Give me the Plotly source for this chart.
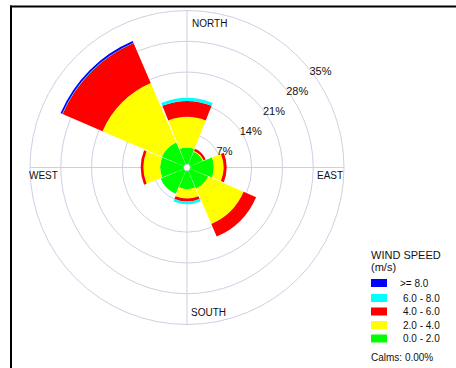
import plotly.graph_objects as go

W, H = 456, 368

# Wind directions (degrees, clockwise from north)
directions = ["N", "NE", "E", "SE", "S", "SW", "W", "NW"]
dir_angles = [0, 45, 90, 135, 180, 225, 270, 315]

# Frequency (%) of each wind speed class per direction
freq_0_2 = [3.8, 3.2, 5.4, 4.5, 4.2, 5.8, 5.4, 5.5]
freq_2_4 = [7.0, 0.2, 2.2, 8.8, 2.1, 0.0, 3.8, 14.7]
freq_4_6 = [3.6, 0.5, 0.7, 3.1, 0.7, 0.0, 0.6, 9.9]
freq_6_8 = [0.7, 0.0, 0.0, 0.0, 0.6, 0.0, 0.0, 0.1]
freq_8_up = [0.0, 0.0, 0.0, 0.0, 0.0, 0.0, 0.0, 0.4]

speed_labels = ["0.0 - 2.0", "2.0 - 4.0", "4.0 - 6.0", "6.0 - 8.0", ">= 8.0"]
speed_colors = ["#00FF00", "#FFFF00", "#FF0000", "#00FFFF", "#0000FF"]
speed_series = [freq_0_2, freq_2_4, freq_4_6, freq_6_8, freq_8_up]

ring_vals = [7, 14, 21, 28, 35]
ring_text = ["7%", "14%", "21%", "28%", "35%"]
calms_pct = 0.00

GRID = "#cfcfe3"
FONT = "Liberation Sans, Arial, sans-serif"


def px(x):
    return x / W


def py(y):
    return 1 - y / H


fig = go.Figure()
for label, color, values in zip(speed_labels, speed_colors, speed_series):
    fig.add_trace(go.Barpolar(
        r=values,
        theta=dir_angles,
        width=[43.5] * len(dir_angles),
        name=label,
        marker=dict(color=color, line=dict(width=0)),
        showlegend=False,
        hoverinfo="skip",
    ))

# polar area centred near (187, 167) px with radius ~157 px
cx, cy, R = 187, 167.5, 157
fig.update_layout(
    width=W, height=H,
    margin=dict(l=0, r=0, t=0, b=0),
    paper_bgcolor="white",
    plot_bgcolor="white",
    font=dict(family=FONT, size=11, color="#111111"),
    polar=dict(
        domain=dict(x=[px(cx - R), px(cx + R)], y=[py(cy + R), py(cy - R)]),
        bgcolor="white",
        barmode="stack",
        hole=0.02,
        radialaxis=dict(
            range=[0, 35],
            tickvals=ring_vals,
            ticktext=ring_text,
            angle=41,
            tickangle=41,
            side="clockwise",
            showline=False,
            ticks="",
            gridcolor=GRID,
            gridwidth=1,
            tickfont=dict(size=11, color="#111111", family=FONT),
        ),
        angularaxis=dict(
            rotation=90,
            direction="clockwise",
            tickvals=[0, 90, 180, 270],
            showticklabels=False,
            ticks="",
            gridcolor=GRID,
            gridwidth=1,
            showline=True,
            linecolor=GRID,
            linewidth=1,
        ),
    ),
)

# compass labels
compass = [
    ("NORTH", 190, 24, "left"),
    ("SOUTH", 189, 312, "left"),
    ("WEST", 27, 175, "left"),
    ("EAST", 345, 175, "right"),
]
annotations = []
for text, x, y, anchor in compass:
    annotations.append(dict(
        text=text, x=px(x), y=py(y), xref="paper", yref="paper",
        xanchor=anchor, yanchor="middle", showarrow=False,
        font=dict(size=10, color="#111111", family=FONT),
    ))

# legend block
annotations.append(dict(
    text="WIND SPEED", x=px(369), y=py(255), xref="paper", yref="paper",
    xanchor="left", yanchor="middle", showarrow=False,
    font=dict(size=11, color="#111111", family=FONT),
))
annotations.append(dict(
    text="(m/s)", x=px(369), y=py(267), xref="paper", yref="paper",
    xanchor="left", yanchor="middle", showarrow=False,
    font=dict(size=11, color="#111111", family=FONT),
))

shapes = []
row_y = [283, 298, 311.5, 325, 338.5]
for i, (label, color) in enumerate(zip(speed_labels[::-1], speed_colors[::-1])):
    yc = row_y[i]
    shapes.append(dict(
        type="rect", xref="paper", yref="paper",
        x0=px(371), x1=px(387), y0=py(yc + 4), y1=py(yc - 4),
        fillcolor=color, line=dict(width=0),
    ))
    annotations.append(dict(
        text=label, x=px(398 if label.startswith(">") else 401), y=py(yc),
        xref="paper", yref="paper", xanchor="left", yanchor="middle",
        showarrow=False, font=dict(size=10, color="#111111", family=FONT),
    ))

annotations.append(dict(
    text=f"Calms: {calms_pct:.2f}%", x=px(369), y=py(357), xref="paper", yref="paper",
    xanchor="left", yanchor="middle", showarrow=False,
    font=dict(size=10, color="#111111", family=FONT),
))

# outer frame (top and left edges)
shapes.append(dict(type="line", xref="paper", yref="paper",
                   x0=px(10), x1=px(W + 5), y0=py(6.5), y1=py(6.5),
                   line=dict(color="black", width=2)))
shapes.append(dict(type="line", xref="paper", yref="paper",
                   x0=px(11), x1=px(11), y0=py(5.5), y1=py(H + 5),
                   line=dict(color="black", width=2)))

fig.update_layout(annotations=annotations, shapes=shapes)
fig.write_html("out.html")
